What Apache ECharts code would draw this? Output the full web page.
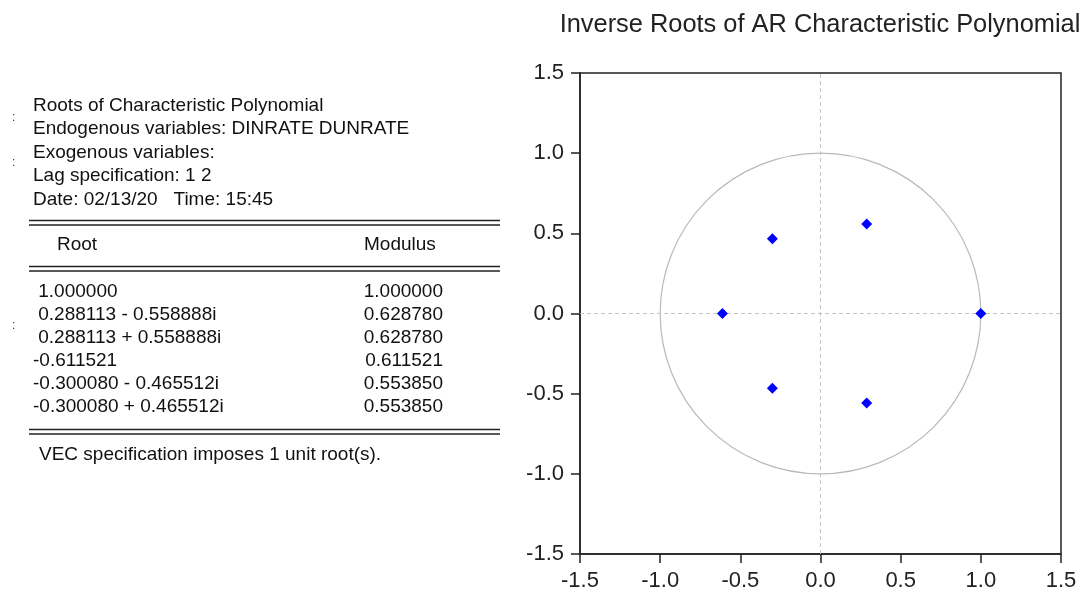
<!DOCTYPE html>
<html>
<head>
<meta charset="utf-8">
<script src="https://cdn.jsdelivr.net/npm/echarts@6/dist/echarts.min.js"></script>
<style>
    html, body { margin: 0; padding: 0; background: #fff; }
    #chart { width: 1085px; height: 594px; }
</style>
</head>
<body>
<div id="chart"></div>
<script>
// inverse roots (real, imaginary) and their moduli, as printed in the table
const rootReal = [1.000000, 0.288113, 0.288113, -0.611521, -0.300080, -0.300080];
const rootImag = [0, -0.558888, 0.558888, 0, -0.465512, 0.465512];
const rootText = [' 1.000000', ' 0.288113 - 0.558888i', ' 0.288113 + 0.558888i',
    '-0.611521', '-0.300080 - 0.465512i', '-0.300080 + 0.465512i'];
const modulusText = ['1.000000', '0.628780', '0.628780', '0.611521', '0.553850', '0.553850'];
const headerLines = [
    'Roots of Characteristic Polynomial',
    'Endogenous variables: DINRATE DUNRATE',
    'Exogenous variables:',
    'Lag specification: 1 2',
    'Date: 02/13/20   Time: 15:45'
];
const footNote = 'VEC specification imposes 1 unit root(s).';
const axisTicks = [-1.5, -1.0, -0.5, 0.0, 0.5, 1.0, 1.5];
const unitRadius = 1;

const FONT = '"Liberation Sans", Arial, sans-serif';
const tableFont = { fontSize: 19, fontFamily: FONT, fill: '#111' };

function txt(x, y, s, align) {
    return {
        type: 'text', x: x, y: y, silent: true,
        style: { text: s, ...tableFont, align: align || 'left', verticalAlign: 'middle' }
    };
}
function dbl(y) {
    return [
        { type: 'line', silent: true, shape: { x1: 29, y1: y, x2: 500, y2: y }, style: { stroke: '#222', lineWidth: 1.5 } },
        { type: 'line', silent: true, shape: { x1: 29, y1: y + 4.5, x2: 500, y2: y + 4.5 }, style: { stroke: '#222', lineWidth: 1.5 } }
    ];
}

let graphics = [];
headerLines.forEach((s, i) => graphics.push(txt(33, 105.7 + i * 23.4, s)));
graphics.push(...dbl(220.5));
graphics.push(txt(57, 245, 'Root'));
graphics.push(txt(364, 245, 'Modulus'));
graphics.push(...dbl(266.5));
rootText.forEach((s, i) => {
    graphics.push(txt(33, 291.7 + i * 23, s));
    graphics.push(txt(443, 291.7 + i * 23, modulusText[i], 'right'));
});
graphics.push(...dbl(429.5));
graphics.push(txt(39, 455, footNote));
[118, 163, 326].forEach(y => graphics.push({
    type: 'text', x: 12, y: y, silent: true,
    style: { text: ':', fontSize: 12, fontFamily: FONT, fill: '#333', verticalAlign: 'middle' }
}));

const axisCommon = {
    type: 'value', min: -1.5, max: 1.5, interval: 0.5,
    axisLine: { show: true, onZero: false, lineStyle: { color: '#222', width: 1.5 } },
    axisTick: { show: true, length: 9, lineStyle: { color: '#222', width: 1.5 } },
    axisLabel: {
        margin: 16, fontSize: 22, fontFamily: FONT, color: '#222',
        formatter: v => axisTicks.includes(v) ? v.toFixed(1) : ''
    },
    splitLine: { show: false }
};

let chartElem = document.getElementById('chart');
let chart = echarts.init(chartElem);
chart.setOption({
    animation: false,
    title: {
        text: 'Inverse Roots of AR Characteristic Polynomial',
        left: 815, top: 7, textAlign: 'center',
        textStyle: { fontSize: 25.4, fontWeight: 'normal', fontFamily: FONT, color: '#222' }
    },
    grid: {
        left: 580, right: 24, top: 73, bottom: 40,
        show: true, borderColor: '#222', borderWidth: 1.5, backgroundColor: '#fff'
    },
    xAxis: { ...axisCommon },
    yAxis: { ...axisCommon },
    graphic: graphics,
    series: [{
        type: 'custom',
        silent: true,
        data: [[0, 0, unitRadius]],
        renderItem: function(params, api) {
            let c = api.coord([api.value(0), api.value(1)]);
            let r = api.size([api.value(2), api.value(2)]);
            return {
                type: 'circle',
                shape: { cx: c[0], cy: c[1], r: (r[0] + r[1]) / 2 },
                style: { fill: 'none', stroke: '#b9b9b9', lineWidth: 1.2 }
            };
        },
        markLine: {
            silent: true,
            symbol: 'none',
            label: { show: false },
            lineStyle: { type: [4, 3], color: '#c4c4c4', width: 1 },
            data: [{ xAxis: 0 }, { yAxis: 0 }]
        },
        z: 1
    }, {
        type: 'scatter',
        symbol: 'diamond',
        symbolSize: 11,
        itemStyle: { color: '#0000ff', opacity: 1 },
        data: rootReal.map((x, i) => [x, rootImag[i]]),
        z: 5
    }]
});
</script>
</body>
</html>
